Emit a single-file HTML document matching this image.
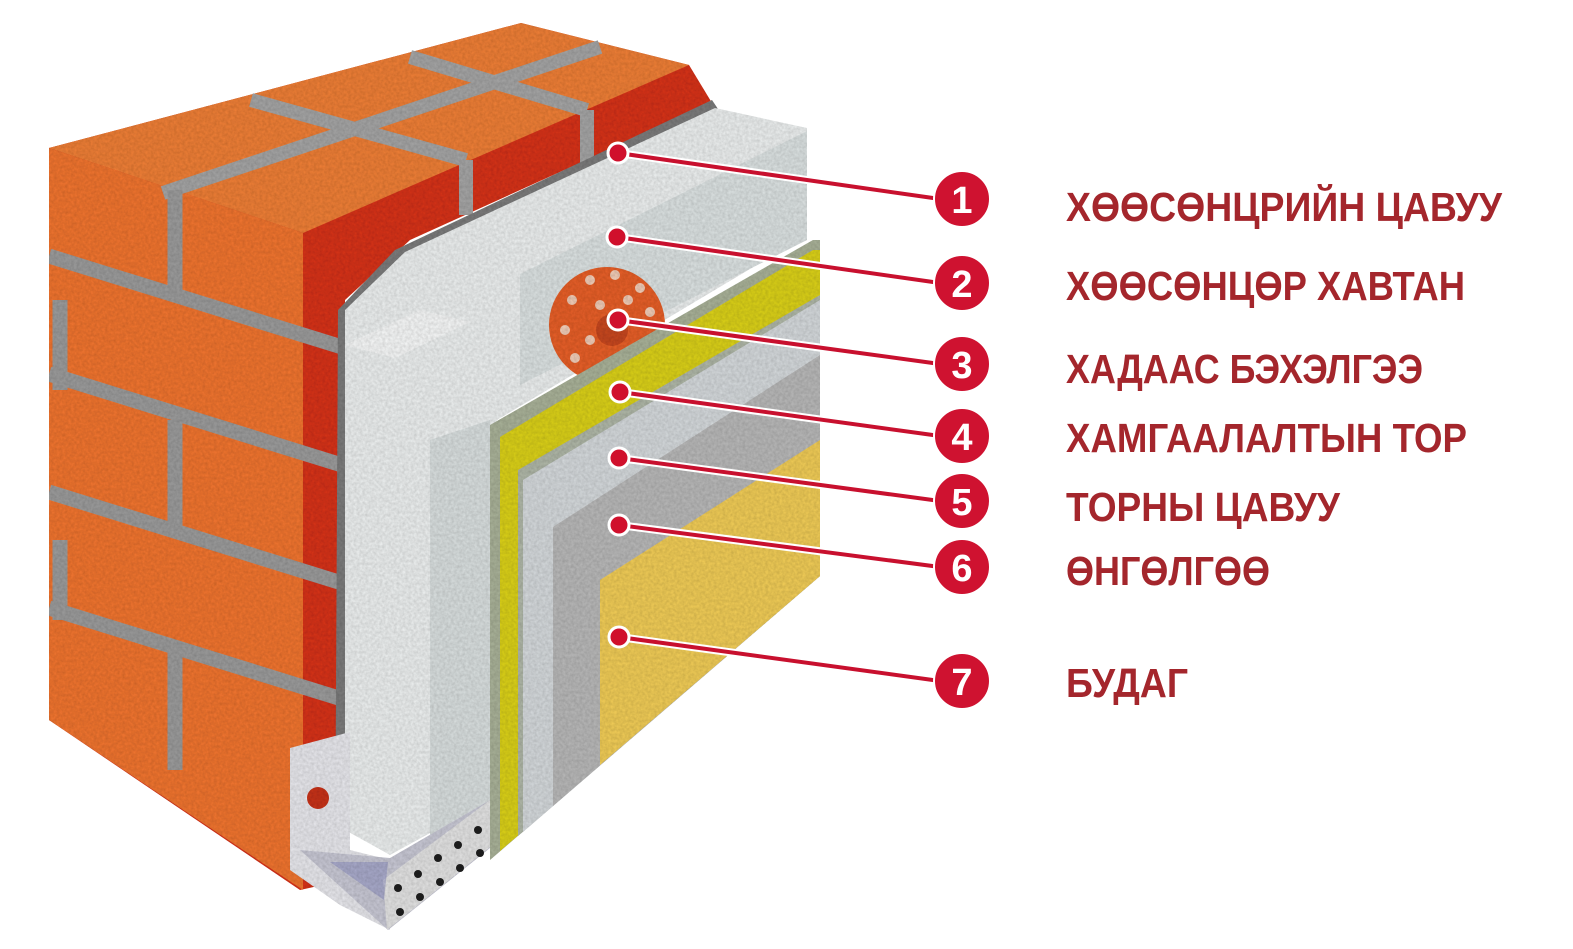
<!DOCTYPE html>
<html><head><meta charset="utf-8"><style>
html,body{margin:0;padding:0;background:#fff;}
svg{display:block;}
text{font-family:"Liberation Sans","DejaVu Sans",sans-serif;font-weight:bold;}
</style></head><body>
<svg width="1573" height="949" viewBox="0 0 1573 949" xmlns="http://www.w3.org/2000/svg">
<defs>
<filter id="tex" x="0" y="0" width="100%" height="100%">
<feTurbulence type="fractalNoise" baseFrequency="0.35" numOctaves="2" seed="3" result="n"/>
<feColorMatrix in="n" type="matrix" values="0 0 0 0 0  0 0 0 0 0  0 0 0 0 0  0 0 0 0.35 0" result="a"/>
<feComposite in="a" in2="SourceGraphic" operator="in" result="m"/>
<feMerge><feMergeNode in="SourceGraphic"/><feMergeNode in="m"/></feMerge>
</filter>
</defs>
<rect width="1573" height="949" fill="#fff"/>
<g filter="url(#tex)">
<polygon points="49,148 521,23 689,65 712,103 410,240 345,300 345,880 300,890 49,720" fill="#d8341f"/>
<polygon points="49,148 521,23 689,65 303,233" fill="#f08038"/>
<polygon points="49,148 303,233 303,890 49,720" fill="#f27632"/>
<g stroke="#a6a6a6" stroke-width="14" fill="none">
<line x1="163" y1="193" x2="600" y2="47"/>
<line x1="251" y1="100" x2="466" y2="160"/>
<line x1="410" y1="57" x2="587" y2="110"/>
<line x1="466" y1="160" x2="466" y2="215"/>
<line x1="587" y1="110" x2="587" y2="165"/>
</g>
<g stroke="#9c9c9c" stroke-width="15" fill="none">
<line x1="49" y1="256" x2="345" y2="348"/>
<line x1="49" y1="374" x2="345" y2="466"/>
<line x1="49" y1="492" x2="345" y2="584"/>
<line x1="49" y1="608" x2="345" y2="700"/>
<line x1="175" y1="190" x2="175" y2="290"/>
<line x1="175" y1="420" x2="175" y2="530"/>
<line x1="175" y1="650" x2="175" y2="770"/>
<line x1="60" y1="300" x2="60" y2="390"/>
<line x1="60" y1="540" x2="60" y2="620"/>
</g>
<polygon points="395,250 712,100 720,112 420,258 350,320 345,880 335,880 338,310" fill="#7d7d7d"/>
<polygon points="345,310 405,252 420,245 715,108 807,128 807,235 497,420 490,800 390,855 345,830" fill="#eef1f1"/>
<polygon points="520,274 807,131 807,240 520,385" fill="#dde3e3"/>
<polygon points="430,440 490,420 490,800 430,835" fill="#dae0e0"/>
<polygon points="345,345 420,310 470,322 395,358" fill="#f8f9f9"/>
<circle cx="607" cy="325" r="58" fill="#e8612a"/>
<g fill="#f3cdb8">
<circle cx="572" cy="300" r="5"/><circle cx="590" cy="280" r="5"/><circle cx="615" cy="275" r="5"/><circle cx="640" cy="288" r="5"/>
<circle cx="650" cy="312" r="5"/><circle cx="565" cy="330" r="5"/><circle cx="575" cy="358" r="5"/><circle cx="600" cy="305" r="5"/>
<circle cx="628" cy="300" r="5"/><circle cx="590" cy="340" r="5"/>
</g>
<circle cx="612" cy="330" r="16" fill="#c84a20"/>
<polygon points="490,425 813,240 820,240 820,576 490,860" fill="#aab39a"/>
<polygon points="500,437 813,250 820,250 820,576 500,851" fill="#dcd21c"/>
<polygon points="518,470 820,295 820,576 518,836" fill="#b0b8a8"/>
<polygon points="523,480 820,300 820,576 523,832" fill="#d6dadd"/>
<polygon points="553,527 820,355 820,576 553,806" fill="#b9b9b9"/>
<polygon points="600,580 820,440 820,576 600,765" fill="#f2cd58"/>
<polygon points="290,748 350,732 350,850 390,860 390,930 340,905 290,870" fill="#e9e9ee"/>
<polygon points="300,850 390,858 490,800 490,848 388,930" fill="#c9c9d6"/>
<polygon points="383,880 490,800 490,847 387,930" fill="#e4e4e4"/>
<polygon points="330,862 388,862 384,900" fill="#8a8cc0" opacity="0.5"/>
<circle cx="318" cy="798" r="11" fill="#c8341c"/>
<g fill="#222">
<circle cx="398" cy="888" r="4"/><circle cx="418" cy="874" r="4"/><circle cx="438" cy="858" r="4"/><circle cx="458" cy="845" r="4"/><circle cx="478" cy="830" r="4"/>
<circle cx="400" cy="912" r="4"/><circle cx="420" cy="897" r="4"/><circle cx="440" cy="882" r="4"/><circle cx="460" cy="868" r="4"/><circle cx="480" cy="853" r="4"/>
</g>
</g>
<g stroke="#fff" stroke-width="8" stroke-linecap="round">
<line x1="618" y1="153" x2="940" y2="199"/><line x1="617" y1="237" x2="940" y2="283"/>
<line x1="618" y1="320" x2="940" y2="364"/><line x1="620" y1="392" x2="940" y2="436"/>
<line x1="619" y1="458" x2="940" y2="501"/><line x1="619" y1="525" x2="940" y2="567"/>
<line x1="619" y1="637" x2="940" y2="681"/>
</g>
<g stroke="#c8102e" stroke-width="4">
<line x1="618" y1="153" x2="940" y2="199"/><line x1="617" y1="237" x2="940" y2="283"/>
<line x1="618" y1="320" x2="940" y2="364"/><line x1="620" y1="392" x2="940" y2="436"/>
<line x1="619" y1="458" x2="940" y2="501"/><line x1="619" y1="525" x2="940" y2="567"/>
<line x1="619" y1="637" x2="940" y2="681"/>
</g>
<g fill="#d0102c" stroke="#fff" stroke-width="3">
<circle cx="618" cy="153" r="10"/><circle cx="617" cy="237" r="10"/><circle cx="618" cy="320" r="10"/>
<circle cx="620" cy="392" r="10"/><circle cx="619" cy="458" r="10"/><circle cx="619" cy="525" r="10"/><circle cx="619" cy="637" r="10"/>
</g>
<g fill="#cf1230" stroke="#fff" stroke-width="2">
<circle cx="962" cy="199" r="28"/><circle cx="962" cy="283" r="28"/><circle cx="962" cy="364" r="28"/>
<circle cx="962" cy="436" r="28"/><circle cx="962" cy="501" r="28"/><circle cx="962" cy="567" r="28"/><circle cx="962" cy="681" r="28"/>
</g>
<g fill="#fff" font-size="38" text-anchor="middle">
<text x="962" y="213">1</text><text x="962" y="297">2</text><text x="962" y="378">3</text>
<text x="962" y="450">4</text><text x="962" y="515">5</text><text x="962" y="581">6</text><text x="962" y="695">7</text>
</g>
<g fill="#a4262c" font-size="41">
<text x="1066" y="221" textLength="436" lengthAdjust="spacingAndGlyphs">ХӨӨСӨНЦРИЙН ЦАВУУ</text>
<text x="1066" y="300" textLength="399" lengthAdjust="spacingAndGlyphs">ХӨӨСӨНЦӨР ХАВТАН</text>
<text x="1066" y="383" textLength="357" lengthAdjust="spacingAndGlyphs">ХАДААС БЭХЭЛГЭЭ</text>
<text x="1066" y="452" textLength="401" lengthAdjust="spacingAndGlyphs">ХАМГААЛАЛТЫН ТОР</text>
<text x="1066" y="521" textLength="274" lengthAdjust="spacingAndGlyphs">ТОРНЫ ЦАВУУ</text>
<text x="1066" y="585" textLength="204" lengthAdjust="spacingAndGlyphs">ӨНГӨЛГӨӨ</text>
<text x="1066" y="697" textLength="122" lengthAdjust="spacingAndGlyphs">БУДАГ</text>
</g>
</svg>
</body></html>
